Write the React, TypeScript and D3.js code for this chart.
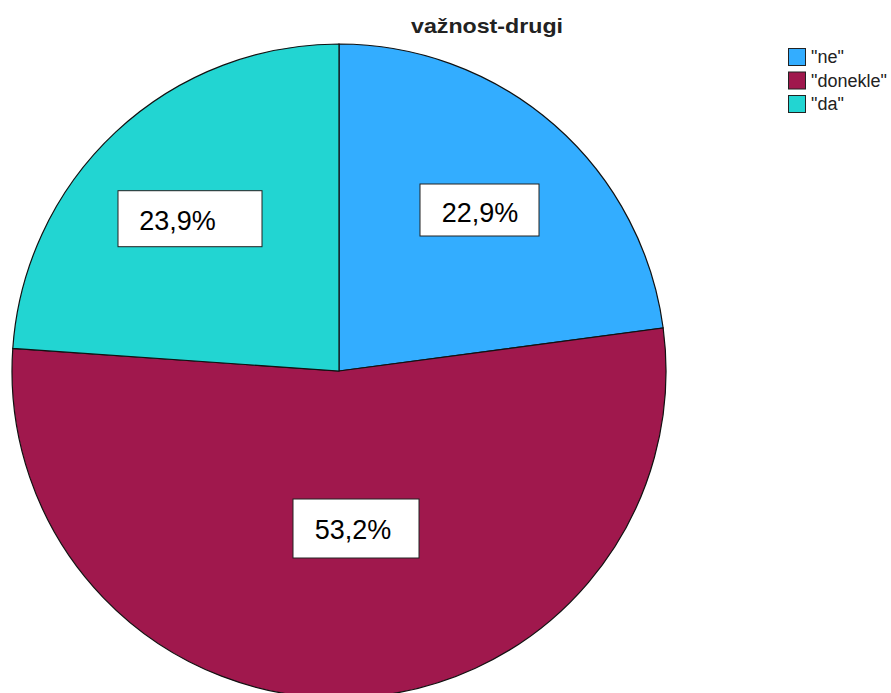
import React from "react";
import * as d3 from "d3";

const title = "važnost-drugi";
const categories = ["\"ne\"", "\"donekle\"", "\"da\""];
const values = [22.9, 53.2, 23.9];
const valueLabels = ["22,9%", "53,2%", "23,9%"];
const colors = ["#33adff", "#a0184d", "#22d5d2"];

// label layout: offset of text centre from pie centre (px), box paddings
const labelLayout = [
  { dx: 141, dy: -159, padL: 60, padR: 59, padT: 28, padB: 24 },
  { dx: 14, dy: 157.5, padL: 60, padR: 66, padT: 29.5, padB: 29.5 },
  { dx: -161.5, dy: -151.3, padL: 59.5, padR: 84.5, padT: 29, padB: 27 },
];

const W = 891;
const H = 693;
const cx = 339;
const cy = 371;
const R = 327;

export default function App() {
  const pie = d3.pie<number>().sort(null).value((d) => d)(values);
  const arc = d3.arc<d3.PieArcDatum<number>>().innerRadius(0).outerRadius(R);
  return (
    <svg
      width={W}
      height={H}
      style={{ position: "absolute", left: 0, top: 0, background: "#fff" }}
      fontFamily="'Liberation Sans', Arial, sans-serif"
    >
      <text
        x={487}
        y={33}
        textAnchor="middle"
        fontWeight="bold"
        fontSize={21}
        fill="#222"
        textLength={152}
        lengthAdjust="spacingAndGlyphs"
      >
        {title}
      </text>
      <g transform={`translate(${cx},${cy})`}>
        {pie.map((p, i) => (
          <path key={i} d={arc(p) || ""} fill={colors[i]} stroke="#111" strokeWidth={1.2} />
        ))}
        {pie.map((p, i) => {
          const L = labelLayout[i];
          return (
            <g key={"l" + i}>
              <rect
                x={L.dx - L.padL}
                y={L.dy - L.padT}
                width={L.padL + L.padR}
                height={L.padT + L.padB}
                fill="#fff"
                stroke="#222"
                strokeWidth={1}
              />
              <text x={L.dx} y={L.dy + 10} textAnchor="middle" fontSize={27} fill="#000">
                {valueLabels[i]}
              </text>
            </g>
          );
        })}
      </g>
      <g transform="translate(788,48)">
        {categories.map((c, i) => (
          <g key={c} transform={`translate(0,${i * 23.5})`}>
            <rect x={0.5} y={0.5} width={17} height={17} fill={colors[i]} stroke="#222" strokeWidth={1} />
            <text x={23} y={15} fontSize={18} fill="#222">
              {c}
            </text>
          </g>
        ))}
      </g>
    </svg>
  );
}
